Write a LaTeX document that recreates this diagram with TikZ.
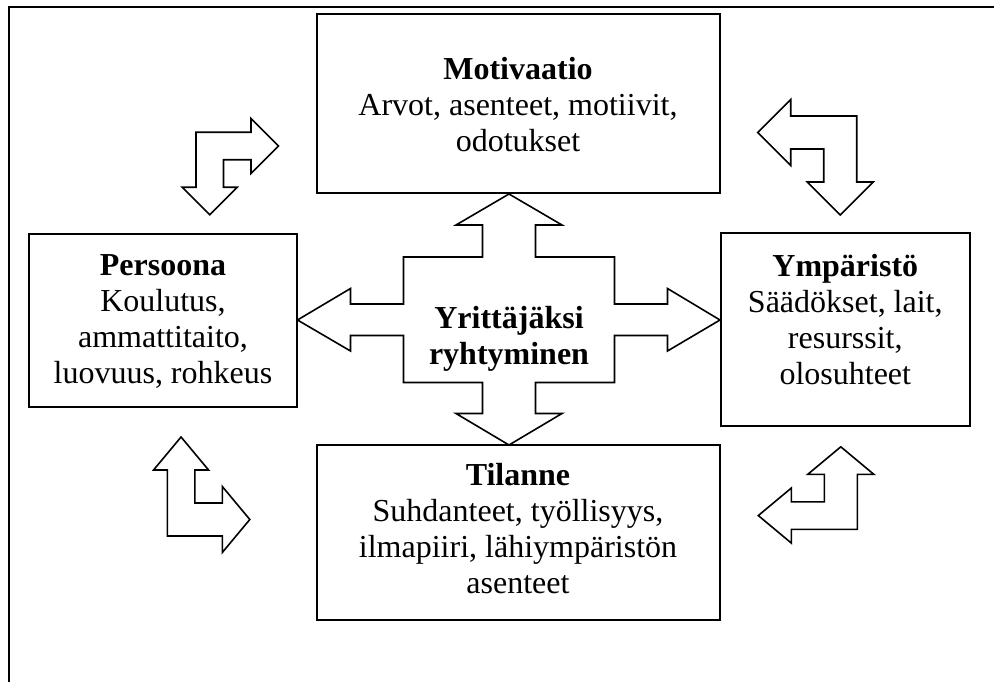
\documentclass[tikz,border=0pt]{standalone}
\usepackage{fontspec}
\setmainfont{Liberation Serif}
\newcommand\firstln[1]{\rule{0pt}{\dimexpr 25.2pt+#1pt\relax}}
\newcommand\lastln[1]{\rule[-\dimexpr 10.8pt+#1pt\relax]{0pt}{\dimexpr 10.8pt+#1pt\relax}}
\tikzset{
  box/.style={draw=black, line width=2pt, fill=white, inner sep=0pt, align=center,
    font={\fontsize{32pt}{36pt}\selectfont}},
  arrowline/.style={draw=black, fill=white, line width=1.6pt, line join=miter}
}
\begin{document}
\begin{tikzpicture}[x=1pt,y=-1pt]
\useasboundingbox (0,0) rectangle (994,682);
% outer frame (open at right and bottom)
\draw[line width=2pt] (9,682) -- (9,7.5) -- (994,7.5);

% corner bent arrows (unit shape: corner at origin, arms along +x and +y)
\begin{scope}[shift={(196,132.3)}, xscale=27.5, yscale=27.5]
  \path[arrowline] (0,0) -- (2,0) -- (2,-0.5) -- (3,0.5) -- (2,1.5) -- (2,1) -- (1,1)
     -- (1,2) -- (1.5,2) -- (0.5,3) -- (-0.5,2) -- (0,2) -- cycle;
\end{scope}
\begin{scope}[shift={(856.7,116)}, xscale=-33, yscale=33]
  \path[arrowline] (0,0) -- (2,0) -- (2,-0.5) -- (3,0.5) -- (2,1.5) -- (2,1) -- (1,1)
     -- (1,2) -- (1.5,2) -- (0.5,3) -- (-0.5,2) -- (0,2) -- cycle;
\end{scope}
\begin{scope}[shift={(167.3,536)}, xscale=27.5, yscale=-33]
  \path[arrowline] (0,0) -- (2,0) -- (2,-0.5) -- (3,0.5) -- (2,1.5) -- (2,1) -- (1,1)
     -- (1,2) -- (1.5,2) -- (0.5,3) -- (-0.5,2) -- (0,2) -- cycle;
\end{scope}
\begin{scope}[shift={(857.3,529.3)}, xscale=-33, yscale=-27.5]
  \path[arrowline] (0,0) -- (2,0) -- (2,-0.5) -- (3,0.5) -- (2,1.5) -- (2,1) -- (1,1)
     -- (1,2) -- (1.5,2) -- (0.5,3) -- (-0.5,2) -- (0,2) -- cycle;
\end{scope}

% central four-way arrow
\path[arrowline] (509,194) -- (562,225) -- (535.5,225) -- (535.5,257) -- (614.5,257) -- (614.5,304)
  -- (667.5,304) -- (667.5,288.5) -- (720,320) -- (667.5,351) -- (667.5,335.5) -- (614.5,335.5)
  -- (614.5,382.5) -- (535.5,382.5) -- (535.5,413.5) -- (562,413.5) -- (509,445) -- (456,413.5)
  -- (482.5,413.5) -- (482.5,382.5) -- (403.5,382.5) -- (403.5,335.5) -- (350.5,335.5)
  -- (350.5,351) -- (297.5,320) -- (350.5,288.5) -- (350.5,304) -- (403.5,304) -- (403.5,257)
  -- (482.5,257) -- (482.5,225) -- (456,225) -- cycle;
\node[align=center, inner sep=0pt, font={\fontsize{32pt}{36pt}\selectfont\bfseries}] (core)
  at (509,339.5) {\firstln{0}Yrittäjäksi\\ryhtyminen\lastln{0}};

% boxes
\node[box, minimum width=403pt, minimum height=179pt] (mot) at (518,103.5)
  {\firstln{10.6}\textbf{Motivaatio}\\Arvot, asenteet, motiivit,\\odotukset\lastln{0}};
\node[box, minimum width=267.4pt, minimum height=172.4pt] (per) at (163,320.5)
  {\firstln{2.6}\textbf{Persoona}\\Koulutus,\\ammattitaito,\\luovuus, rohkeus\lastln{0}};
\node[box, minimum width=249.3pt, minimum height=192.7pt] (ymp) at (845.3,329.7)
  {\firstln{0}\textbf{Ympäristö}\\Säädökset, lait,\\resurssit,\\olosuhteet\lastln{12}};
\node[box, minimum width=403pt, minimum height=175pt] (til) at (518,532.5)
  {\firstln{0}\textbf{Tilanne}\\Suhdanteet, työllisyys,\\ilmapiiri, lähiympäristön\\asenteet\lastln{0}};
\end{tikzpicture}
\end{document}
